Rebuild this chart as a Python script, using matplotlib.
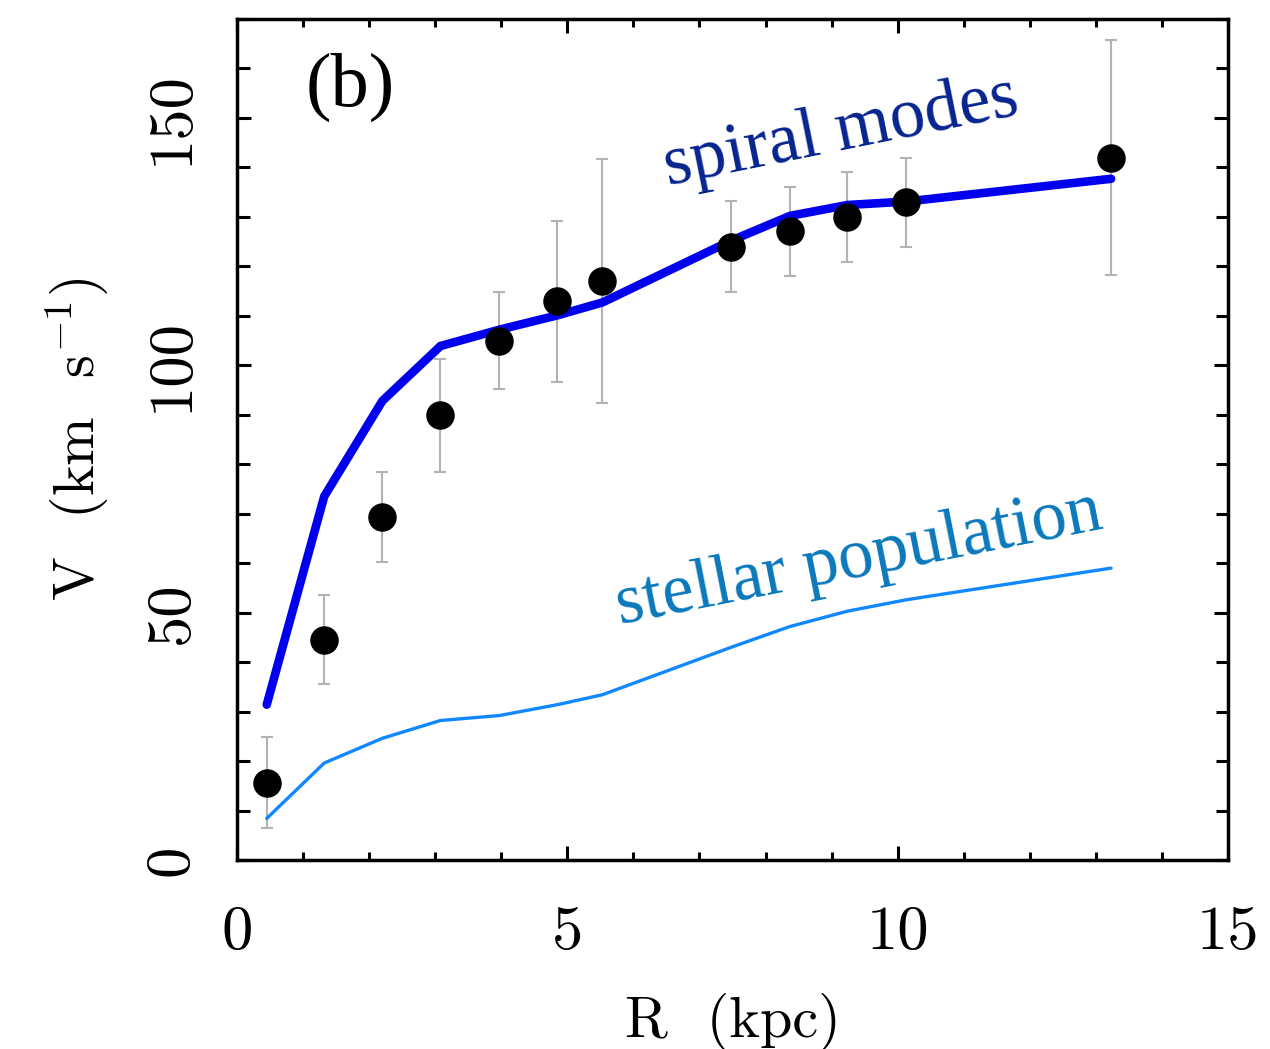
import matplotlib
matplotlib.use("Agg")
import matplotlib.pyplot as plt
from matplotlib.ticker import MultipleLocator

# ---- data ----
R = [0.45, 1.32, 2.20, 3.08, 3.97, 4.85, 5.53, 7.48, 8.37, 9.24, 10.13, 13.23]
V_obs = [15.6, 44.5, 69.4, 89.9, 105.0, 112.9, 117.1, 124.0, 127.1, 130.0, 133.0, 142.0]
V_err = [9.2, 9.0, 9.1, 11.4, 9.8, 16.2, 24.7, 9.2, 9.0, 9.1, 9.0, 23.8]
V_spiral = [31.4, 73.5, 92.8, 103.9, 107.2, 110.1, 112.7, 125.2, 130.2, 132.4, 133.1, 137.7]
V_stellar = [8.4, 19.6, 24.6, 28.2, 29.2, 31.4, 33.4, 43.0, 47.2, 50.3, 52.6, 59.0]

x_ticks = [0, 5, 10, 15]
y_ticks = [0, 50, 100, 150]

plt.rcParams['mathtext.fontset'] = 'cm'
tick_font = dict(family=['cmr10', 'DejaVu Serif'])
serif = ['Liberation Serif', 'DejaVu Serif']

fig = plt.figure(figsize=(12.7, 10.49), dpi=100)
ax = fig.add_axes([237/1270, 1 - 860/1049, (1228-237)/1270, (860-19)/1049])

ax.errorbar(R, V_obs, yerr=V_err, fmt='none', ecolor='#b3b3b3', elinewidth=1.5,
            capsize=4, capthick=1.5, zorder=2)
ax.plot(R, V_spiral, color='#0000ee', lw=6.2, solid_capstyle='round', solid_joinstyle='miter', zorder=3)
ax.plot(R, V_stellar, color='#1188ff', lw=2.4, solid_capstyle='round', zorder=3)
ax.plot(R, V_obs, 'o', color='black', ms=19.5, zorder=4)

ax.set_xlim(0, 15)
ax.set_ylim(0, 170)
ax.set_xticks(x_ticks)
ax.set_yticks(y_ticks)
ax.xaxis.set_minor_locator(MultipleLocator(1))
ax.yaxis.set_minor_locator(MultipleLocator(10))

for s in ax.spines.values():
    s.set_linewidth(2.5)
ax.tick_params(which='both', direction='in', top=True, right=True, width=2.2)
ax.tick_params(which='major', length=10)
ax.xaxis.set_tick_params(which='major', pad=33)
ax.yaxis.set_tick_params(which='major', pad=27)
ax.xaxis.set_tick_params(which='minor', length=5.5)
ax.yaxis.set_tick_params(which='minor', length=9)

ax.set_xticklabels([str(t) for t in x_ticks], fontsize=45, **tick_font)
ax.set_yticklabels([str(t) for t in y_ticks], fontsize=45, rotation=90, va='center', **tick_font)

ax.set_xlabel('R  (kpc)', fontsize=42, **tick_font)
ax.xaxis.set_label_coords(0.5, -(993-860)/841)
ax.set_ylabel('V  (km  s$^{-1}$)', fontsize=42, **tick_font)
ax.yaxis.set_label_coords((110-237)/991, 0.5)

ax.text(0.0696, 0.897, '(b)', transform=ax.transAxes, fontsize=55, family=serif,
        ha='left', va='baseline')
ax.text(6.53, 136.4, 'spiral modes', fontsize=51, family=serif, color='#06248e',
        rotation=11.4, rotation_mode='anchor', ha='left', va='baseline')
ax.text(5.8, 47.6, 'stellar population', fontsize=51, family=serif, color='#0a78bb',
        rotation=11.2, rotation_mode='anchor', ha='left', va='baseline')

fig.savefig('out.png', dpi=100)
